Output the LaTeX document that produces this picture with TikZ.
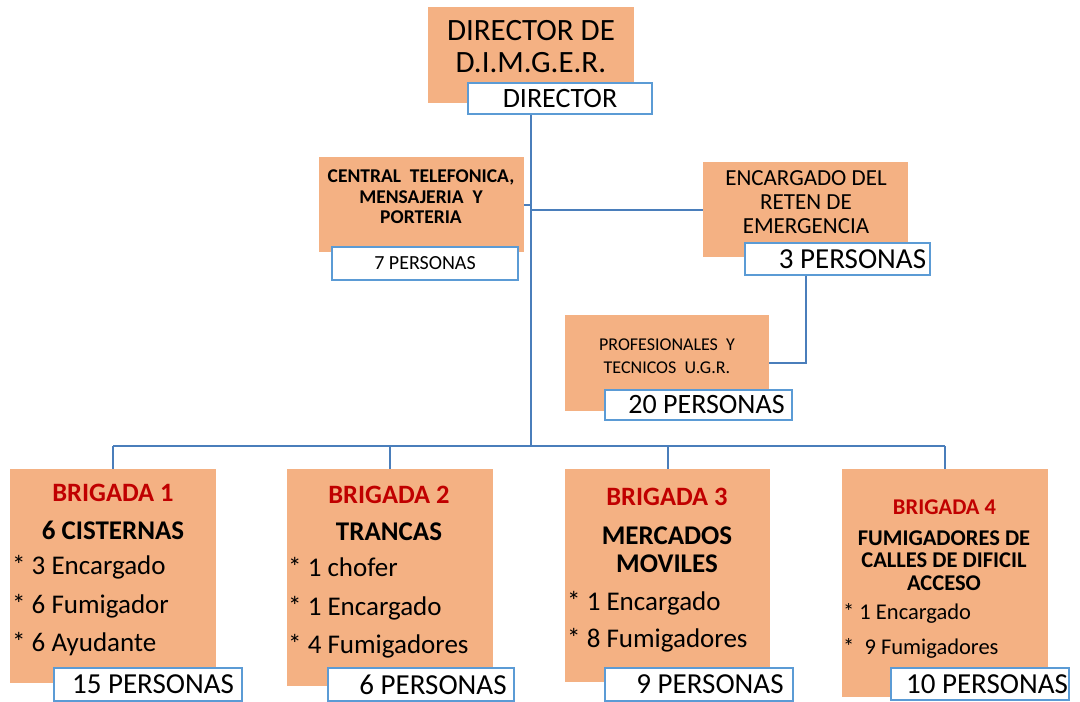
\documentclass[tikz,border=0pt]{standalone}
\usepackage{fontspec}
\setmainfont{Carlito}
\usetikzlibrary{positioning,calc}
\definecolor{boxorange}{RGB}{244,177,131}
\definecolor{tagblue}{RGB}{91,155,213}
\definecolor{lineblue}{RGB}{74,126,187}
\definecolor{brigred}{RGB}{192,0,0}
\tikzstyle{unit} = [rectangle, fill=boxorange, inner sep=0pt]
\tikzstyle{tag} = [rectangle, draw=tagblue, line width=1.3pt, fill=white, inner sep=0pt, minimum height=32pt]
\tikzstyle{link} = [draw=lineblue, line width=2pt]
\tikzstyle{num} = [inner sep=0pt, font=\fontsize{29}{33}\selectfont]
\tikzstyle{brig} = [inner sep=0pt, text=brigred, font=\bfseries\fontsize{26.5}{30}\selectfont]
\tikzstyle{items} = [inner sep=0pt, anchor=west, align=left]
\newcommand{\fs}[2]{\fontsize{#1}{#2}\selectfont}

\begin{document}
\begin{tikzpicture}[x=1pt,y=-1pt]
    \useasboundingbox (0,0) rectangle (1080,702);
    % cajas naranjas
    \node (dir) [unit, minimum width=206pt, minimum height=96pt] at (531,55) {};
    \node (cen) [unit, minimum width=205pt, minimum height=95pt] at (421.5,204.5) {};
    \node (enc) [unit, minimum width=205pt, minimum height=95pt] at (805.5,209.5) {};
    \node (pro) [unit, minimum width=204pt, minimum height=96pt] at (667,363) {};
    \node (b1) [unit, minimum width=206pt, minimum height=214pt] at (113,576) {};
    \node (b2) [unit, minimum width=206pt, minimum height=217pt] at (390,577.5) {};
    \node (b3) [unit, minimum width=205pt, minimum height=213pt] at (667.5,575.5) {};
    \node (b4) [unit, minimum width=206pt, minimum height=228pt] at (945,583) {};

    % textos
    \node (dirtxt) [align=center, font=\fs{31}{32}] at (531,47) {DIRECTOR DE\\D.I.M.G.E.R.};
    \node (centxt) [align=center, font=\bfseries\fs{19.5}{20.5}] at (421,197) {CENTRAL\ \ TELEFONICA,\\MENSAJERIA\ \ Y\\PORTERIA};
    \node (enctxt) [align=center, font=\fs{23}{24}] at (806,202) {ENCARGADO DEL\\RETEN DE\\EMERGENCIA};
    \node (protxt) [align=center, font=\fs{18}{23}] at (667,356) {PROFESIONALES\ \ Y\\TECNICOS\ \ U.G.R.};

    \node (b1head) [brig] at (113,493) {BRIGADA 1};
    \node (b1title) [inner sep=0pt, font=\bfseries\fs{27}{30}] at (113,530) {6 CISTERNAS};
    \node (b1list) [items, font=\fs{27}{38.5}] at (12,606) {*\ 3 Encargado\\*\ 6 Fumigador\\*\ 6 Ayudante};

    \node (b2head) [brig] at (389,495) {BRIGADA 2};
    \node (b2title) [inner sep=0pt, font=\bfseries\fs{27}{30}] at (389,532) {TRANCAS};
    \node (b2list) [items, font=\fs{27}{38.5}] at (288,608) {*\ 1 chofer\\*\ 1 Encargado\\*\ 4 Fumigadores};

    \node (b3head) [brig] at (667,497) {BRIGADA 3};
    \node (b3title) [inner sep=0pt, align=center, font=\bfseries\fs{27}{28}] at (667,549.5) {MERCADOS\\MOVILES};
    \node (b3list) [items, font=\fs{27}{37}] at (567,621.5) {*\ 1 Encargado\\*\ 8 Fumigadores};

    \node (b4head) [brig, font=\bfseries\fs{22.5}{26}] at (944.5,507) {BRIGADA 4};
    \node (b4title) [inner sep=0pt, align=center, font=\bfseries\fs{22.5}{22.5}] at (944,560.5) {FUMIGADORES DE\\CALLES DE DIFICIL\\ACCESO};
    \node (b4list) [items, font=\fs{22.5}{35}] at (843,630.5) {* 1 Encargado\\*\ \ 9 Fumigadores};

    % conectores
    \coordinate (bus) at (531,446);
    \draw [link] (dir.south) -- (bus);
    \draw [link] (cen.east) -- (cen.east -| bus);
    \draw [link] (enc.west -| bus) -- (enc.west);
    \draw [link] (b1.north |- bus) -- (b4.north |- bus);
    \draw [link] (b1.north |- bus) -- (b1.north);
    \draw [link] (b2.north |- bus) -- (b2.north);
    \draw [link] (b3.north |- bus) -- (b3.north);
    \draw [link] (b4.north |- bus) -- (b4.north);

    % etiquetas de personas
    \node (dirtag) [tag, minimum width=184pt, minimum height=31pt] at (560,98.5) {};
    \node (centag) [tag, minimum width=186pt, minimum height=33pt] at (425,263.5) {};
    \node (enctag) [tag, minimum width=185pt] at (837.5,259) {};
    \node (protag) [tag, minimum width=187pt, minimum height=30pt] at (698.5,405) {};
    \node (b1tag) [tag, minimum width=188pt, minimum height=33pt] at (148,684.5) {};
    \node (b2tag) [tag, minimum width=186pt, minimum height=33pt] at (421,684.5) {};
    \node (b3tag) [tag, minimum width=188pt, minimum height=33pt] at (699,684.5) {};
    \node (b4tag) [tag, minimum width=178pt] at (980,684) {};

    \draw [link] (enctag.south -| enc.south) |- (pro.east);

    \node (dirnum) [num, font=\fs{28}{32}] at (dirtag) {DIRECTOR};
    \node (cennum) [num, font=\fs{20}{24}] at (centag) {7 PERSONAS};
    \node (encnum) [num] at ([xshift=15pt]enctag.center) {3 PERSONAS};
    \node (pronum) [num, font=\fs{28}{32}] at ([xshift=8pt]protag.center) {20 PERSONAS};
    \node (b1num) [num] at ([xshift=5pt]b1tag.center) {15 PERSONAS};
    \node (b2num) [num] at ([xshift=12pt]b2tag.center) {6 PERSONAS};
    \node (b3num) [num] at ([xshift=11pt]b3tag.center) {9 PERSONAS};
    \node (b4num) [num] at ([xshift=7pt]b4tag.center) {10 PERSONAS};
\end{tikzpicture}
\end{document}
